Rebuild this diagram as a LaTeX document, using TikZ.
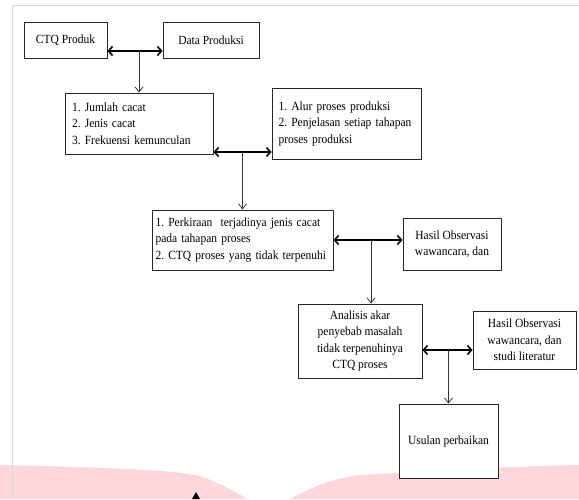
\documentclass[tikz,border=0pt]{standalone}
\usepackage{fontspec}
\setmainfont{Liberation Serif}[FakeStretch=0.92]
\frenchspacing
\usetikzlibrary{arrows.meta}
\definecolor{wmpink}{RGB}{253,215,219}
\definecolor{framegray}{RGB}{215,215,215}
\tikzstyle{box} = [rectangle, draw=black!85, line width=0.9pt, fill=white, inner sep=0pt, font=\fontsize{12.5}{16.5}\selectfont]
\tikzstyle{listbox} = [box, align=left]
\tikzstyle{textbox} = [box, align=center]
\tikzstyle{arrow} = [line width=0.8pt, draw=black!80, -{Straight Barb[length=5pt,width=8pt]}]
\tikzstyle{darrow} = [line width=1.6pt, {Straight Barb[length=4pt,width=9pt]}-{Straight Barb[length=4pt,width=9pt]}]

\begin{document}
\begin{tikzpicture}[x=1pt, y=1pt, node distance=100pt]
\useasboundingbox (0,0) rectangle (579,-499);
% page background
\fill[wmpink] (0,-465) .. controls (100,-467) and (175,-470) .. (200,-476) .. controls (216,-481) and (235,-492) .. (248,-499) -- (0,-499) -- cycle;
\fill[wmpink] (290,-499) .. controls (310,-488) and (335,-477) .. (362,-475) .. controls (450,-470) and (520,-466) .. (579,-465) -- (579,-499) -- cycle;
\fill[black] (192,-499) -- (196,-492) -- (200,-499) -- cycle;
\draw[framegray, line width=1pt] (12,-499) -- (12,-5) -- (579,-5);

\node (ctq) [textbox, minimum width=83pt, minimum height=36pt] at (65.5,-40) {CTQ Produk};
\node (data) [textbox, right of=ctq, xshift=45.5pt, minimum width=96pt, minimum height=36pt] {Data Produksi};
\node (jumlah) [listbox, below of=ctq, xshift=73.5pt, yshift=16.5pt, minimum width=148pt, minimum height=61pt, text width=134pt] {1. Jumlah cacat\\2. Jenis cacat\\3. Frekuensi kemunculan};
\node (alur) [listbox, right of=jumlah, xshift=107.5pt, minimum width=149pt, minimum height=71pt, text width=136pt] {1. Alur proses produksi\\2. Penjelasan setiap tahapan\\proses produksi};
\node (perkiraan) [listbox, below of=jumlah, xshift=103.5pt, yshift=-16.5pt, minimum width=181pt, minimum height=60pt, text width=174pt] {1. Perkiraan \ terjadinya jenis cacat\\pada tahapan proses\\2. CTQ proses yang tidak terpenuhi};
\node (hasil1) [textbox, right of=perkiraan, xshift=109.5pt, yshift=-4pt, minimum width=98pt, minimum height=52pt] {Hasil Observasi\\wawancara, dan};
\node (analisis) [textbox, below of=perkiraan, xshift=117.5pt, yshift=-1pt, minimum width=124pt, minimum height=74pt] {Analisis akar\\penyebab masalah\\tidak terpenuhinya\\CTQ proses};
\node (hasil2) [textbox, right of=analisis, xshift=64.5pt, yshift=1pt, minimum width=103pt, minimum height=58pt] {Hasil Observasi\\wawancara, dan\\studi literatur};
\node (usulan) [textbox, below of=analisis, xshift=88.5pt, minimum width=99pt, minimum height=74pt] {Usulan perbaikan};

\draw [darrow] ([yshift=-11pt]ctq.east) coordinate (p1) -- (p1 -| data.west);
\draw [arrow] (jumlah.north |- p1) -- (jumlah.north);
\draw [darrow] ([yshift=-28.5pt]jumlah.east) coordinate (p2) -- (p2 -| alur.west);
\draw [arrow] (perkiraan.north |- p2) -- (perkiraan.north);
\draw [darrow] (perkiraan.east) coordinate (p3) -- (p3 -| hasil1.west);
\draw [arrow] ([xshift=11pt]analisis.north |- p3) -- ([xshift=11pt]analisis.north);
\draw [darrow] ([yshift=-9pt]analisis.east) coordinate (p4) -- (p4 -| hasil2.west);
\draw [arrow] (usulan.north |- p4) -- (usulan.north);
\end{tikzpicture}
\end{document}
